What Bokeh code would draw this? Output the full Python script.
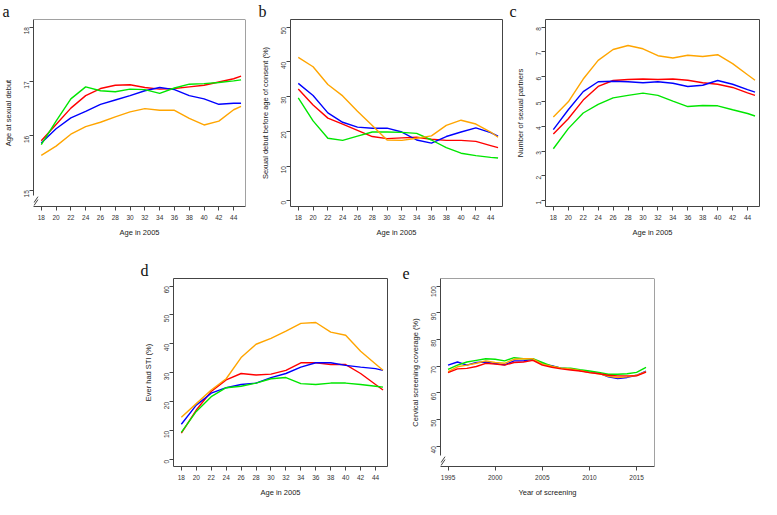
import math
from bokeh.plotting import figure
from bokeh.layouts import row, column
from bokeh.models import Range1d, FixedTicker, Spacer, Title, Span
from bokeh.embed import file_html
from bokeh.resources import INLINE

# ---------------- data ----------------
COLORS = {"red": "#FF0000", "blue": "#0000FF", "green": "#00E600", "orange": "#FFA500"}

ages = [18, 20, 22, 24, 26, 28, 30, 32, 34, 36, 38, 40, 42, 44, 45]
age_ticks = [18, 20, 22, 24, 26, 28, 30, 32, 34, 36, 38, 40, 42, 44]

# a: Age at sexual debut
a_red    = [15.91, 16.21, 16.51, 16.74, 16.87, 16.93, 16.94, 16.89, 16.86, 16.87, 16.90, 16.93, 16.99, 17.05, 17.10]
a_blue   = [15.87, 16.13, 16.33, 16.45, 16.58, 16.66, 16.74, 16.83, 16.89, 16.85, 16.74, 16.68, 16.58, 16.60, 16.60]
a_green  = [15.84, 16.27, 16.68, 16.90, 16.83, 16.81, 16.86, 16.85, 16.78, 16.88, 16.95, 16.96, 16.98, 17.01, 17.03]
a_orange = [15.64, 15.81, 16.03, 16.17, 16.25, 16.35, 16.44, 16.50, 16.47, 16.47, 16.32, 16.20, 16.27, 16.48, 16.54]

# b: Sexual debut before age of consent (%)
b_red    = [32.2, 27.6, 23.8, 22.1, 20.3, 18.5, 17.9, 18.1, 18.3, 17.7, 17.4, 17.4, 17.1, 15.9, 15.3]
b_blue   = [33.8, 30.3, 25.3, 22.6, 21.2, 20.9, 20.9, 19.8, 17.5, 16.6, 18.5, 19.8, 21.0, 19.6, 18.6]
b_green  = [29.6, 23.0, 18.0, 17.4, 18.6, 19.8, 19.8, 19.7, 19.4, 17.5, 15.3, 13.7, 13.0, 12.5, 12.3]
b_orange = [41.3, 38.6, 33.5, 30.2, 25.8, 21.7, 17.5, 17.4, 18.0, 18.7, 21.7, 23.2, 22.1, 19.8, 18.3]

# c: Number of sexual partners
c_red    = [3.69, 4.31, 5.06, 5.61, 5.85, 5.89, 5.91, 5.89, 5.91, 5.86, 5.76, 5.70, 5.57, 5.35, 5.25]
c_blue   = [3.87, 4.67, 5.40, 5.80, 5.82, 5.80, 5.76, 5.80, 5.74, 5.61, 5.66, 5.85, 5.70, 5.48, 5.38]
c_green  = [3.10, 3.91, 4.54, 4.89, 5.15, 5.25, 5.34, 5.25, 5.02, 4.80, 4.84, 4.83, 4.67, 4.52, 4.42]
c_orange = [4.38, 4.99, 5.91, 6.66, 7.10, 7.26, 7.13, 6.85, 6.76, 6.87, 6.82, 6.89, 6.53, 6.08, 5.86]

# d: Ever had STI (%)
d_red    = [9.2, 17.2, 23.6, 27.6, 29.8, 29.3, 29.6, 30.9, 33.5, 33.5, 32.9, 32.9, 29.8, 26.0, 24.1]
d_blue   = [12.3, 18.9, 23.0, 24.9, 26.0, 26.5, 28.4, 29.8, 32.0, 33.5, 33.5, 32.6, 32.0, 31.5, 30.9]
d_green  = [9.5, 16.7, 21.8, 24.9, 25.4, 26.5, 28.0, 28.4, 26.3, 26.0, 26.5, 26.5, 26.0, 25.4, 25.1]
d_orange = [14.7, 19.4, 24.1, 28.0, 35.3, 39.9, 41.9, 44.4, 47.1, 47.4, 44.1, 43.0, 37.5, 33.1, 30.9]

# e: Cervical screening coverage (%)
years = list(range(1995, 2017))
year_ticks = [1995, 2000, 2005, 2010, 2015]
e_red    = [67.6, 69.0, 69.2, 69.9, 71.1, 70.8, 70.4, 71.4, 71.6, 72.2, 70.4, 69.6, 69.0, 68.6, 68.2, 67.6, 67.2, 66.6, 66.4, 66.4, 66.4, 67.8]
e_blue   = [70.4, 71.6, 70.4, 71.4, 71.6, 71.0, 70.5, 72.0, 72.0, 72.6, 70.8, 70.2, 69.3, 69.0, 68.4, 67.8, 67.4, 66.0, 65.4, 65.8, 66.6, 68.2]
e_green  = [68.8, 70.4, 71.6, 72.2, 72.8, 72.6, 72.0, 73.2, 72.8, 72.8, 71.4, 70.0, 69.3, 69.3, 68.7, 68.2, 67.7, 67.0, 67.0, 67.2, 67.7, 69.6]
e_orange = [68.0, 69.8, 70.4, 71.1, 72.0, 71.4, 71.1, 72.6, 72.8, 72.8, 70.8, 70.0, 69.3, 69.0, 68.4, 67.6, 67.2, 66.2, 65.8, 66.0, 66.6, 68.0]

FONT = "Liberation Sans"
SERIF = "Liberation Serif"
BOX = "#444444"


def make_panel(letter, width, height, left, right, top, bottom,
               xr, yr, xticks, yticks, xlabel, ylabel, x, series, brk=False):
    p = figure(width=width, height=height, x_range=Range1d(*xr), y_range=Range1d(*yr),
               output_backend="svg", toolbar_location=None,
               min_border_left=left, min_border_right=right,
               min_border_top=top, min_border_bottom=bottom)
    p.title = Title(text=letter, align="left", offset=-left, standoff=0,
                    text_font=SERIF, text_font_size="16px", text_font_style="normal",
                    text_color="#111111", text_line_height=1.0)
    p.xgrid.visible = False
    p.ygrid.visible = False
    p.background_fill_color = "white"
    p.border_fill_color = "white"
    for ax in (p.xaxis[0], p.yaxis[0]):
        ax.axis_line_color = None
        ax.major_tick_line_color = BOX
        ax.major_tick_out = 4
        ax.major_tick_in = 0
        ax.minor_tick_line_color = None
        ax.major_label_text_font = FONT
        ax.major_label_text_font_size = "6.5px"
        ax.major_label_text_color = "#333333"
        ax.axis_label_text_font = FONT
        ax.axis_label_text_font_size = "7.5px"
        ax.axis_label_text_font_style = "normal"
        ax.axis_label_text_color = "#222222"
    p.xaxis.ticker = FixedTicker(ticks=xticks)
    p.yaxis.ticker = FixedTicker(ticks=yticks)
    p.xaxis.axis_label = xlabel
    p.yaxis.axis_label = ylabel
    p.xaxis.major_label_standoff = 4
    p.xaxis.axis_label_standoff = 5
    p.yaxis.major_label_standoff = 3
    p.yaxis.axis_label_standoff = 6
    p.yaxis.major_label_orientation = math.pi / 2

    if not brk:
        p.outline_line_color = BOX
        p.outline_line_width = 1
    else:
        # box drawn piecewise so the left side can show an axis break near the bottom
        p.outline_line_color = None
        fh = height - top - bottom
        fw = width - left - right
        ypx = (yr[1] - yr[0]) / fh
        xpx = (xr[1] - xr[0]) / fw
        p.yaxis.axis_line_color = BOX
        p.yaxis.bounds = (yr[0] + 11 * ypx, yr[1])
        p.xaxis.axis_line_color = BOX
        p.add_layout(Span(location=yr[1], dimension="width", line_color=BOX, line_width=1))
        p.add_layout(Span(location=xr[1], dimension="height", line_color=BOX, line_width=1))
        # the two slashes of the break mark
        bx0 = [xr[0] + 0.5 * xpx, xr[0] + 0.5 * xpx]
        bx1 = [xr[0] + 4.5 * xpx, xr[0] + 4.5 * xpx]
        by0 = [yr[0] + 1 * ypx, yr[0] + 4 * ypx]
        by1 = [yr[0] + 7 * ypx, yr[0] + 10 * ypx]
        p.segment(bx0, by0, bx1, by1, line_color=BOX, line_width=1)

    for name, ys in series:
        p.line(x, ys, line_color=COLORS[name], line_width=1.4)
    return p


age_x = (16.95, 45.6)

pa = make_panel("a", 257, 247, 31, 12, 16, 41, age_x, (14.70, 18.14), age_ticks, [15, 16, 17, 18],
                "Age in 2005", "Age at sexual debut", ages,
                [("red", a_red), ("blue", a_blue), ("green", a_green), ("orange", a_orange)], brk=True)
pb = make_panel("b", 252, 247, 32, 7, 16, 41, age_x, (-1.65, 52.2), age_ticks, [0, 10, 20, 30, 40, 50],
                "Age in 2005", "Sexual debut before age of consent (%)", ages,
                [("red", b_red), ("blue", b_blue), ("green", b_green), ("orange", b_orange)])
pc = make_panel("c", 252, 247, 36, 2, 16, 41, age_x, (0.77, 8.31), age_ticks, [1, 2, 3, 4, 5, 6, 7, 8],
                "Age in 2005", "Number of sexual partners", ages,
                [("red", c_red), ("blue", c_blue), ("green", c_green), ("orange", c_orange)])
pd_ = make_panel("d", 262, 252, 33, 15, 31, 30, age_x, (-2.3, 62.6), age_ticks, [0, 10, 20, 30, 40, 50, 60],
                 "Age in 2005", "Ever had STI (%)", ages,
                 [("red", d_red), ("blue", d_blue), ("green", d_green), ("orange", d_orange)])
pe = make_panel("e", 359, 252, 38, 107, 31, 30, (1994.2, 2016.9), (32.4, 102.9), year_ticks,
                [40, 50, 60, 70, 80, 90, 100],
                "Year of screening", "Cervical screening coverage (%)", years,
                [("blue", e_blue), ("green", e_green), ("orange", e_orange), ("red", e_red)], brk=True)

layout = column(row(pa, pb, pc), row(Spacer(width=140, height=252), pd_, pe))

open("out.html", "w").write(file_html(layout, INLINE))
